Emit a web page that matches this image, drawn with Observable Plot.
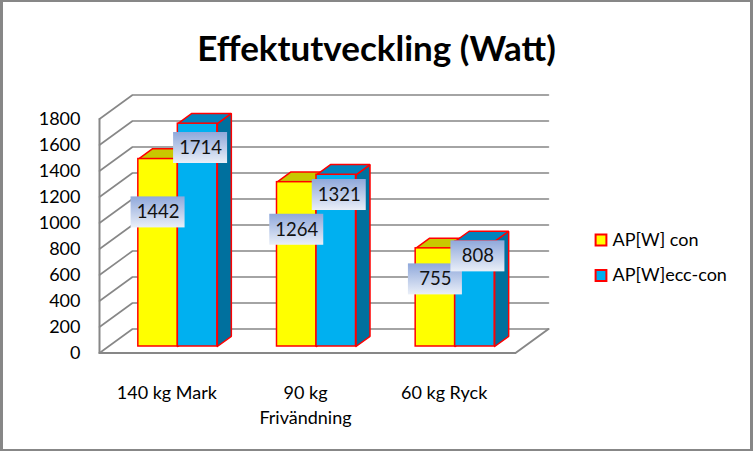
<!DOCTYPE html>
<html>
<head>
<meta charset="utf-8">
<script src="https://cdn.jsdelivr.net/npm/d3@7"></script>
<script src="https://cdn.jsdelivr.net/npm/@observablehq/plot@0.6"></script>
<style>
  html, body { margin: 0; padding: 0; background: #fff; }
  #wrap { position: relative; width: 753px; height: 451px; overflow: hidden; }
  #wrap svg { display: block; }
  #border { position: absolute; left: 0; top: 0; width: 753px; height: 451px; box-sizing: border-box; border: 2px solid #878787; border-width: 2px 3px 2px 3px; pointer-events: none; }
</style>
</head>
<body>
<div id="wrap"><div id="border"></div></div>
<script>
// ---- data ----
const categories = ["140 kg Mark", "90 kg\nFrivändning", "60 kg Ryck"];
const seriesNames = ["AP[W] con", "AP[W]ecc-con"];
const apCon = [1442, 1264, 755];
const apEccCon = [1714, 1321, 808];
const yTicks = [0, 200, 400, 600, 800, 1000, 1200, 1400, 1600, 1800];
const title = "Effektutveckling (Watt)";

// ---- styling ----
const W = 753, H = 451;
const mL = 99, mR = 238, mT = 118.5, mB = 98.5;
const FONT = "Lato, 'Open Sans', sans-serif";
const fs = 18;
const gridColor = "#878787";
const faces = [
  {front: "#FFFF00", top: "#C8C800", side: "#B5B500"},
  {front: "#00B0F0", top: "#0084BE", side: "#00709E"}
];
const labelRatio = [0.75, 0.92];   // label anchor as a share of the bar value
const labelShift = [0, 3];         // px
// 3D depth geometry in pixels
const wallD = [33, 24], barF = [9, 6.5], barD = [14, 10.2], barW = 39.5, boxW = 54, boxH = 31;

// px -> data units via Plot scales
const sx = Plot.scale({x: {type: "linear", domain: [0, categories.length], range: [mL, W - mR]}});
const sy = Plot.scale({y: {type: "linear", domain: [0, 1800], range: [H - mB, mT]}});
const ux = px => sx.invert(mL + px) - sx.invert(mL);
const uy = px => sy.invert(H - mB - px) - sy.invert(H - mB);

const n = categories.length;
const grid = yTicks.flatMap(v => [
  {v, x: 0, y: v},
  {v, x: ux(wallD[0]), y: v + uy(wallD[1])},
  {v, x: n + ux(wallD[0]), y: v + uy(wallD[1])}
]);
const floorEdge = [
  {x: 0, y: 0}, {x: n, y: 0}, {x: n + ux(wallD[0]), y: uy(wallD[1])}
];
const leftEdge = [{x: 0, y: 0}, {x: 0, y: yTicks[yTicks.length - 1]}];

const seriesValues = [apCon, apEccCon];
const bars = seriesValues.map((vals, s) => categories.map((c, i) => {
  const cx = i + 0.5 + ux(barF[0]);
  const x1 = s === 0 ? cx - ux(barW) : cx;
  const x2 = s === 0 ? cx : cx + ux(barW);
  const y1 = uy(barF[1]);
  const y2 = vals[i] + uy(barF[1]);
  return {id: `${s}-${i}`, s, i, value: vals[i], x1, x2, y1, y2};
}));
const bdx = ux(barD[0]), bdy = uy(barD[1]);
const sidePoly = s => bars[s].flatMap(b => [
  {id: b.id, x: b.x2, y: b.y1}, {id: b.id, x: b.x2, y: b.y2},
  {id: b.id, x: b.x2 + bdx, y: b.y2 + bdy}, {id: b.id, x: b.x2 + bdx, y: b.y1 + bdy},
  {id: b.id, x: b.x2, y: b.y1}
]);
const topPoly = s => bars[s].flatMap(b => [
  {id: b.id, x: b.x1, y: b.y2}, {id: b.id, x: b.x2, y: b.y2},
  {id: b.id, x: b.x2 + bdx, y: b.y2 + bdy}, {id: b.id, x: b.x1 + bdx, y: b.y2 + bdy},
  {id: b.id, x: b.x1, y: b.y2}
]);
const labels = bars.flat().map(b => {
  const cx = (b.x1 + b.x2) / 2 + ux(labelShift[b.s]);
  const cy = b.value * labelRatio[b.s];
  return {text: String(b.value), cx, cy,
    x1: cx - ux(boxW / 2), x2: cx + ux(boxW / 2),
    y1: cy - uy(boxH / 2), y2: cy + uy(boxH / 2)};
});

const defs = () => {
  const d = d3.create("svg:defs");
  const g = d.append("linearGradient").attr("id", "lblGrad")
    .attr("x1", 0).attr("y1", 0).attr("x2", 0).attr("y2", 1);
  g.append("stop").attr("offset", "0%").attr("stop-color", "#8fa8db");
  g.append("stop").attr("offset", "100%").attr("stop-color", "#eaeff8");
  return d.node();
};

const barMarks = [0, 1].flatMap(s => [
  Plot.line(sidePoly(s), {x: "x", y: "y", z: "id", fill: faces[s].side, stroke: "#FF0000", strokeWidth: 1.5, strokeLinejoin: "miter"}),
  Plot.line(topPoly(s), {x: "x", y: "y", z: "id", fill: faces[s].top, stroke: "#FF0000", strokeWidth: 1.5, strokeLinejoin: "miter"}),
  Plot.rect(bars[s], {x1: "x1", x2: "x2", y1: "y1", y2: "y2", fill: faces[s].front, stroke: "#FF0000", strokeWidth: 1.5})
]);

const legendMarks = [0, 1].flatMap(s => [
  Plot.dot([seriesNames[s]], {frameAnchor: "top-left", dx: 600.5 - mL, dy: 239.5 + s * 35.5 - mT,
    symbol: "square", r: 6.1, fill: faces[s].front, stroke: "#FF0000", strokeWidth: 2}),
  Plot.text([seriesNames[s]], {text: d => d, frameAnchor: "top-left", dx: 612 - mL, dy: 239.5 + s * 35.5 - mT,
    textAnchor: "start", lineAnchor: "middle", fontSize: fs, fill: "#000"})
]);

const plot = Plot.plot({
  width: W, height: H,
  marginLeft: mL, marginRight: mR, marginTop: mT, marginBottom: mB,
  style: {fontFamily: FONT, fontSize: `${fs}px`, color: "#000", background: "#fff"},
  x: {type: "linear", domain: [0, n], axis: null},
  y: {type: "linear", domain: [0, 1800], axis: null},
  marks: [
    defs,
    Plot.line(grid, {x: "x", y: "y", z: "v", stroke: gridColor, strokeWidth: 1.6}),
    Plot.line(floorEdge, {x: "x", y: "y", stroke: gridColor, strokeWidth: 2}),
    Plot.line(leftEdge, {x: "x", y: "y", stroke: gridColor, strokeWidth: 2}),
    Plot.axisY(yTicks, {tickSize: 0, tickPadding: 19, label: null, tickFormat: d => `${d}`, fontSize: fs, fill: "#000"}),
    ...barMarks,
    Plot.rect(labels, {x1: "x1", x2: "x2", y1: "y1", y2: "y2", fill: "url(#lblGrad)"}),
    Plot.text(labels, {x: "cx", y: "cy", text: "text", fontSize: fs + 0.5, fill: "#111", lineAnchor: "middle"}),
    Plot.text(categories, {x: (d, i) => i + 0.5, y: 0, dx: -2, dy: 28, text: d => d, lineAnchor: "top", lineHeight: 1.4, fontSize: fs, fill: "#000"}),
    Plot.text([title], {text: d => d, frameAnchor: "top", dx: 376 - (mL + (W - mR)) / 2, dy: 49 - mT, fontSize: 35, fontWeight: "bold", lineAnchor: "middle", fill: "#000"}),
    ...legendMarks
  ]
});
document.getElementById("wrap").prepend(plot);
</script>
</body>
</html>
